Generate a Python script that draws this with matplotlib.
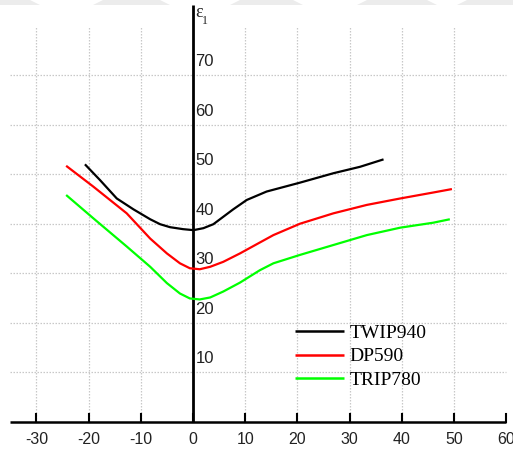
import matplotlib
matplotlib.use("Agg")
import matplotlib.pyplot as plt
from matplotlib.patches import Polygon

# strain paths for the three steels (minor strain vs major strain, %)
twip_x = [-20.7, -17.8, -14.6, -11.4, -8.2, -6.3, -4.4, -1.9, 0.1, 2.0, 3.9, 5.8, 7.7,
          10.3, 14.1, 20.5, 26.9, 32.0, 36.5]
twip_y = [52.0, 48.8, 45.1, 42.9, 40.9, 39.9, 39.3, 38.9, 38.7, 39.1, 39.9, 41.4, 42.9,
          44.8, 46.5, 48.3, 50.2, 51.5, 53.0]

dp_x = [-24.3, -19.1, -12.7, -8.2, -5.0, -2.5, -0.6, 1.3, 3.3, 5.8, 9.0, 12.8, 15.4,
        20.5, 26.9, 33.3, 39.7, 46.0, 49.6]
dp_y = [51.7, 47.5, 42.1, 37.0, 34.0, 32.0, 31.0, 30.8, 31.3, 32.3, 34.0, 36.2, 37.7,
        40.0, 42.1, 43.8, 45.1, 46.3, 47.0]

trip_x = [-24.3, -19.1, -12.7, -8.2, -5.0, -2.5, -0.6, 1.3, 3.3, 5.8, 9.0, 12.8, 15.4,
          20.5, 26.9, 33.3, 39.7, 46.0, 49.2]
trip_y = [45.8, 41.1, 35.4, 31.3, 28.0, 25.9, 24.9, 24.7, 25.1, 26.3, 28.1, 30.6, 32.0,
          33.7, 35.7, 37.7, 39.2, 40.2, 40.9]

series = [("TWIP940", twip_x, twip_y, "black"),
          ("DP590", dp_x, dp_y, "#ff0000"),
          ("TRIP780", trip_x, trip_y, "#00ff00")]

x_ticks = [-30, -20, -10, 0, 10, 20, 30, 40, 50, 60]
y_ticks = [10, 20, 30, 40, 50, 60, 70]

fig = plt.figure(figsize=(5.13, 4.5), dpi=100)
ax = fig.add_axes([0, 0, 1, 1])
ax.set_xlim(-36.97, 61.3)
ax.set_ylim(-5.72, 85.2)
ax.axis("off")

# faint band along the top edge
fig.patches.append(Polygon([[0, 1], [1, 1], [1, 1 - 5 / 450], [0, 1 - 5 / 450]],
                           closed=True, transform=fig.transFigure,
                           facecolor="#ececec", edgecolor="none", zorder=0))
for a, b in [(30, 103), (160, 240), (293, 367), (427, 467)]:
    fig.patches.append(Polygon([[a / 513, 1], [b / 513, 1], [(b - 10) / 513, 1 - 5 / 450],
                                [(a + 10) / 513, 1 - 5 / 450]],
                               closed=True, transform=fig.transFigure,
                               facecolor="white", edgecolor="none", zorder=1))

# dotted grid
for xv in x_ticks[:-1]:
    if xv != 0:
        ax.plot([xv, xv], [0, 80], color="#c8c8c8", lw=0.9, ls=(0, (1.2, 1.2)), zorder=1)
for yv in y_ticks:
    ax.plot([-35, 60], [yv, yv], color="#c8c8c8", lw=0.9, ls=(0, (1.2, 1.2)), zorder=1)

# axes through the origin
ax.plot([-35, 60], [0, 0], color="black", lw=1.8, zorder=3, solid_capstyle="butt")
ax.plot([0, 0], [0, 84.2], color="black", lw=2.0, zorder=3, solid_capstyle="butt")
for xv in x_ticks:
    ax.plot([xv, xv], [0, 1.6], color="black", lw=1.5, zorder=3)
    ax.text(xv, -3.6, str(xv), ha="center", va="center", fontsize=11.5,
            family="Liberation Sans", color="#222222")
for yv in y_ticks:
    ax.text(0.5, yv + 2.75, str(yv), ha="left", va="center", fontsize=12,
            family="Liberation Sans", color="#222222")

# axis name: epsilon with subscript 1
ax.text(0.35, 82.6, "ε", ha="left", va="center", fontsize=13,
        family="Liberation Serif", color="#222222")
ax.text(1.75, 81.0, "1", ha="left", va="center", fontsize=8.5,
        family="Liberation Serif", color="#222222")

for name, xs, ys, c in series:
    ax.plot(xs, ys, color=c, lw=1.6, label=name, zorder=4,
            solid_joinstyle="round", solid_capstyle="butt")

leg = ax.legend(loc="upper left", bbox_to_anchor=(295 / 513, 1 - 324 / 450),
                bbox_transform=fig.transFigure, frameon=False, borderpad=0,
                borderaxespad=0, handlelength=2.5, handletextpad=0.3,
                labelspacing=0.32, prop={"family": "Liberation Serif", "size": 14})
for line in leg.get_lines():
    line.set_linewidth(1.8)

fig.savefig("out.png", dpi=100)
